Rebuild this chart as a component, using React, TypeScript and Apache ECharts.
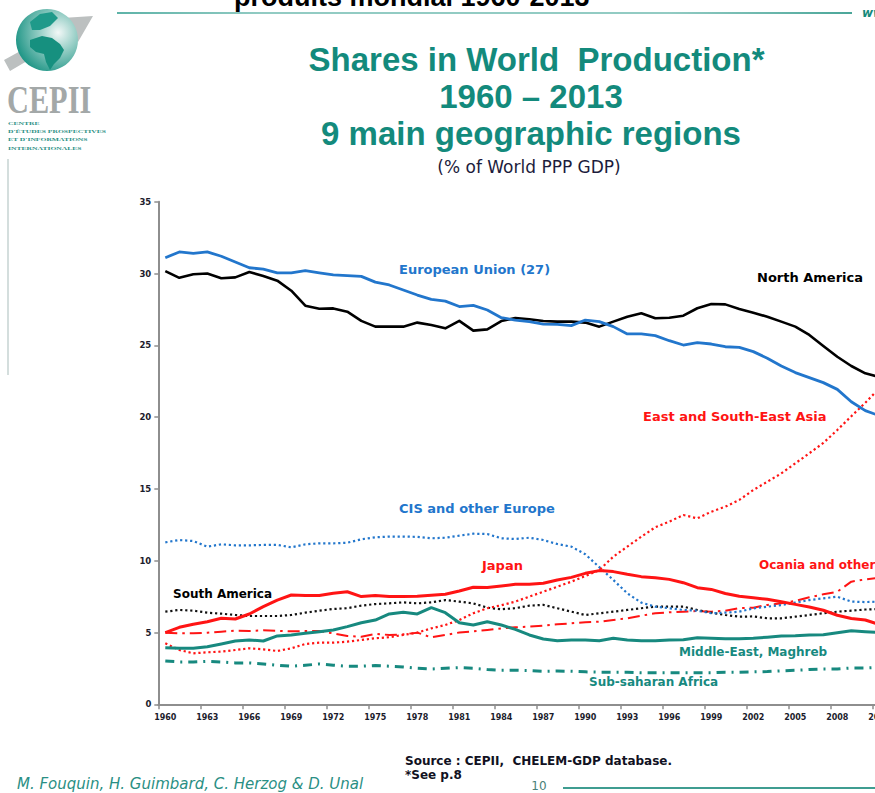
import React, { useEffect, useRef } from "react";
import * as echarts from "echarts";

const years: string[] = Array.from({ length: 54 }, (_, i) => String(1960 + i));

const europeanUnion = [
  31.1, 31.5, 31.4, 31.5, 31.2, 30.8, 30.4, 30.3, 30.05, 30.05,
  30.2, 30.05, 29.9, 29.85, 29.8, 29.4, 29.2, 28.85, 28.5, 28.2,
  28.08, 27.7, 27.78, 27.46, 26.92, 26.76, 26.65, 26.48, 26.46, 26.37,
  26.76, 26.65, 26.3, 25.79, 25.79, 25.67, 25.32, 25.02, 25.18, 25.09,
  24.9, 24.86, 24.56, 24.1, 23.56, 23.1, 22.75, 22.4, 21.93, 21.07,
  20.45, 20.1, 19.8, 19.5,
];
const northAmerica = [
  30.17, 29.7, 29.95, 30.0, 29.67, 29.73, 30.1, 29.83, 29.5, 28.8,
  27.76, 27.55, 27.57, 27.34, 26.7, 26.3, 26.3, 26.3, 26.58, 26.41,
  26.18, 26.7, 26.02, 26.11, 26.69, 26.9, 26.81, 26.69, 26.65, 26.65,
  26.58, 26.3, 26.65, 26.99, 27.23, 26.88, 26.92, 27.06, 27.58, 27.88,
  27.85, 27.53, 27.27, 26.99, 26.65, 26.3, 25.72, 24.95, 24.2, 23.56,
  23.05, 22.8, 22.5, 22.2,
];
const eastSouthEastAsia = [
  4.25, 3.78, 3.55, 3.62, 3.67, 3.78, 3.9, 3.83, 3.71, 3.9,
  4.2, 4.29, 4.29, 4.36, 4.48, 4.6, 4.67, 4.83, 4.99, 5.29,
  5.52, 5.87, 6.34, 6.69, 6.9, 7.15, 7.5, 7.84, 8.19, 8.54,
  8.93, 9.35, 10.28, 10.98, 11.67, 12.33, 12.72, 13.18, 12.95, 13.41,
  13.76, 14.23, 14.92, 15.5, 16.08, 16.78, 17.48, 18.2, 19.1, 20.06,
  21.0, 22.0, 23.0, 24.0,
];
const japan = [
  4.99, 5.36, 5.57, 5.75, 5.99, 5.94, 6.29, 6.8, 7.26, 7.61,
  7.57, 7.57, 7.73, 7.84, 7.5, 7.57, 7.5, 7.5, 7.52, 7.6,
  7.66, 7.89, 8.15, 8.13, 8.24, 8.36, 8.36, 8.43, 8.66, 8.84,
  9.12, 9.31, 9.24, 9.05, 8.89, 8.82, 8.7, 8.47, 8.12, 8.0,
  7.72, 7.52, 7.42, 7.31, 7.14, 6.96, 6.78, 6.55, 6.2, 5.97,
  5.87, 5.55, 5.3, 5.1,
];
const cisOtherEurope = [
  11.28, 11.44, 11.37, 10.98, 11.14, 11.07, 11.07, 11.1, 11.1, 10.93,
  11.14, 11.21, 11.21, 11.25, 11.49, 11.63, 11.68, 11.68, 11.66, 11.56,
  11.6, 11.74, 11.88, 11.86, 11.56, 11.51, 11.6, 11.44, 11.16, 10.98,
  10.45, 9.55, 8.66, 7.73, 7.08, 6.8, 6.69, 6.57, 6.52, 6.34,
  6.38, 6.45, 6.68, 6.8, 6.91, 7.08, 7.26, 7.38, 7.49, 7.15,
  7.12, 7.15, 7.2, 7.3,
];
const southAmerica = [
  6.45, 6.57, 6.52, 6.38, 6.31, 6.22, 6.15, 6.15, 6.15, 6.22,
  6.38, 6.52, 6.64, 6.69, 6.87, 6.98, 7.03, 7.1, 7.03, 7.1,
  7.26, 7.15, 7.03, 6.73, 6.62, 6.69, 6.87, 6.92, 6.69, 6.45,
  6.22, 6.34, 6.45, 6.57, 6.69, 6.8, 6.8, 6.8, 6.57, 6.38,
  6.22, 6.1, 6.12, 5.99, 5.99, 6.1, 6.22, 6.34, 6.45, 6.52,
  6.6, 6.63, 6.7, 6.75,
];
const oceaniaOther = [
  4.99, 4.94, 4.94, 4.99, 5.06, 5.13, 5.1, 5.15, 5.12, 5.08,
  5.1, 5.1, 4.94, 4.76, 4.71, 4.9, 4.83, 4.87, 4.99, 4.66,
  4.83, 5.0, 5.08, 5.18, 5.29, 5.36, 5.41, 5.48, 5.57, 5.64,
  5.71, 5.75, 5.87, 5.99, 6.17, 6.34, 6.41, 6.45, 6.5, 6.45,
  6.52, 6.69, 6.73, 6.92, 7.03, 7.2, 7.45, 7.66, 7.84, 8.54,
  8.7, 8.82, 8.9, 9.0,
];
const middleEastMaghreb = [
  3.94, 3.9, 3.9, 4.01, 4.2, 4.41, 4.48, 4.41, 4.76, 4.83,
  4.94, 5.06, 5.18, 5.41, 5.68, 5.87, 6.29, 6.41, 6.29, 6.73,
  6.38, 5.68, 5.52, 5.75, 5.52, 5.22, 4.83, 4.55, 4.43, 4.48,
  4.48, 4.43, 4.6, 4.48, 4.43, 4.43, 4.48, 4.5, 4.64, 4.6,
  4.57, 4.57, 4.6, 4.67, 4.76, 4.78, 4.83, 4.85, 4.99, 5.12,
  5.06, 5.0, 5.0, 4.95,
];
const subSaharanAfrica = [
  3.02, 2.95, 2.95, 2.99, 2.95, 2.88, 2.88, 2.81, 2.72, 2.65,
  2.72, 2.81, 2.72, 2.65, 2.65, 2.7, 2.65, 2.6, 2.51, 2.46,
  2.51, 2.55, 2.51, 2.42, 2.37, 2.37, 2.35, 2.3, 2.32, 2.3,
  2.26, 2.24, 2.24, 2.24, 2.2, 2.19, 2.19, 2.19, 2.19, 2.19,
  2.24, 2.24, 2.26, 2.28, 2.33, 2.37, 2.42, 2.46, 2.46, 2.53,
  2.53, 2.58, 2.6, 2.62,
];

const TEAL = "#138a7c";
const BLUE = "#2276cc";
const RED = "#ff1414";
const SERIES_TEAL = "#17897f";

function label(text: string, x: number, y: number, fill: string, size: number) {
  return {
    type: "text",
    x,
    y,
    z: 100,
    style: {
      text,
      font: `bold ${size}px "DejaVu Sans"`,
      fill,
      textAlign: "left",
      textVerticalAlign: "middle",
    },
  };
}

export default function App() {
  const ref = useRef<HTMLDivElement>(null);

  useEffect(() => {
    if (!ref.current) return;
    const chart = echarts.init(ref.current, null, { renderer: "svg" });

    const line = (
      name: string,
      data: number[],
      color: string,
      width: number,
      type: any,
      z: number
    ) => ({
      name,
      type: "line",
      data,
      showSymbol: false,
      symbol: "none",
      z,
      lineStyle: { color, width, type, cap: "butt", join: "round" },
    });

    const option: any = {
      animation: false,
      backgroundColor: "#ffffff",
      grid: { left: 158.3, top: 201.7, right: 5.7, bottom: 88.7, containLabel: false },
      xAxis: {
        type: "category",
        data: years,
        boundaryGap: true,
        axisLine: { show: true, lineStyle: { color: "#8e8e8e", width: 2 } },
        axisTick: { show: true, interval: 2, length: 5, lineStyle: { color: "#8e8e8e", width: 1.5 } },
        axisLabel: {
          interval: 2,
          fontFamily: "DejaVu Sans",
          fontWeight: "bold",
          fontSize: 8,
          color: "#1c1c2c",
          margin: 9,
        },
        splitLine: { show: false },
      },
      yAxis: {
        type: "value",
        min: 0,
        max: 35,
        interval: 5,
        axisLine: { show: true, lineStyle: { color: "#8e8e8e", width: 2 } },
        axisTick: { show: true, length: 4, lineStyle: { color: "#8e8e8e", width: 1.5 } },
        axisLabel: {
          fontFamily: "DejaVu Sans",
          fontWeight: "bold",
          fontSize: 8.5,
          color: "#1c1c2c",
          margin: 7,
        },
        splitLine: { show: false },
      },
      series: [
        line("Sub-saharan Africa", subSaharanAfrica, SERIES_TEAL, 3, [9, 6, 2, 6], 2),
        line("Ocania and other", oceaniaOther, RED, 2, [12, 5, 2.5, 5], 2),
        line("South America", southAmerica, "#111111", 2.2, [2.2, 2.8], 2),
        line("CIS and other Europe", cisOtherEurope, BLUE, 2.2, [2.2, 2.8], 2),
        line("East and South-East Asia", eastSouthEastAsia, RED, 2.2, [2.2, 2.8], 2),
        line("Middle-East, Maghreb", middleEastMaghreb, SERIES_TEAL, 3, "solid", 3),
        line("Japan", japan, RED, 3, "solid", 3),
        line("North America", northAmerica, "#000000", 2.6, "solid", 4),
        line("European Union (27)", europeanUnion, BLUE, 2.8, "solid", 4),
      ],
      graphic: [
        // top rule
        {
          type: "rect",
          shape: { x: 117, y: 12, width: 735, height: 2 },
          style: {
            fill: new echarts.graphic.LinearGradient(0, 0, 1, 0, [
              { offset: 0, color: "#5eb3a8" },
              { offset: 0.2, color: "#92cbc3" },
              { offset: 0.75, color: "#92cbc3" },
              { offset: 1, color: "#4aa699" },
            ]),
          },
        },
        {
          type: "text",
          x: 234,
          y: 10,
          style: {
            text: "produits mondial 1960-2013",
            font: 'bold 27px "Liberation Sans"',
            fill: "#000000",
            textAlign: "left",
            textVerticalAlign: "bottom",
          },
        },
        {
          type: "text",
          x: 862,
          y: 13,
          style: {
            text: "www.cepii.fr",
            font: 'italic bold 12px "DejaVu Sans"',
            fill: TEAL,
            textAlign: "left",
            textVerticalAlign: "middle",
          },
        },
        // left vertical rule
        { type: "line", shape: { x1: 8, y1: 159, x2: 8, y2: 375 }, style: { stroke: "#a9bdbb", lineWidth: 1 } },
        // logo arrow
        {
          type: "polygon",
          shape: { points: [[4, 60], [66, 26], [62, 18], [93, 16], [78, 42], [73, 34], [10, 71]] },
          style: { fill: "#bcc0c0" },
        },
        // globe
        {
          type: "circle",
          shape: { cx: 47, cy: 40, r: 31 },
          style: {
            fill: new echarts.graphic.RadialGradient(0.68, 0.38, 0.75, [
              { offset: 0, color: "#f2f8f7" },
              { offset: 0.45, color: "#8cc9c0" },
              { offset: 1, color: "#139080" },
            ]),
          },
        },
        {
          type: "polygon",
          shape: { points: [[30, 40], [42, 36], [52, 38], [60, 44], [64, 50], [60, 58], [54, 64], [50, 70], [46, 62], [44, 54], [36, 52], [30, 47]] },
          style: { fill: "#16907f" },
        },
        {
          type: "polygon",
          shape: { points: [[30, 22], [40, 14], [52, 12], [58, 18], [50, 26], [40, 30], [32, 30]] },
          style: { fill: "#1f9a8a" },
        },
        {
          type: "text",
          x: 7,
          y: 99,
          scaleX: 0.74,
          style: {
            text: "CEPII",
            font: 'bold 41px "Liberation Serif"',
            fill: "#a3a8a8",
            textAlign: "left",
            textVerticalAlign: "middle",
          },
        },
        ...["CENTRE", "D'ÉTUDES PROSPECTIVES", "ET D'INFORMATIONS", "INTERNATIONALES"].map((t, i) => ({
          type: "text",
          x: 8,
          y: 123 + i * 8.3,
          scaleX: 1.65,
          style: {
            text: t,
            font: 'bold 4.6px "Liberation Serif"',
            fill: "#2a8f84",
            textAlign: "left",
            textVerticalAlign: "middle",
          },
        })),
        // titles
        ...["Shares in World  Production*", "1960 – 2013", "9 main geographic regions"].map((t, i) => ({
          type: "text",
          x: i === 0 ? 536.5 : 531,
          y: [59, 96, 133][i],
          style: {
            text: t,
            font: 'bold 33px "Liberation Sans"',
            fill: TEAL,
            textAlign: "center",
            textVerticalAlign: "middle",
          },
        })),
        {
          type: "text",
          x: 529,
          y: 167,
          style: {
            text: "(% of World PPP GDP)",
            font: '17px "DejaVu Sans"',
            fill: "#1c1c3c",
            textAlign: "center",
            textVerticalAlign: "middle",
          },
        },
        // series labels
        label("European Union (27)", 399, 269, BLUE, 13),
        label("North America", 757, 277, "#000000", 13),
        label("East and South-East Asia", 643, 416, RED, 13),
        label("CIS and other Europe", 399, 508, BLUE, 13),
        label("Japan", 482, 565, RED, 13),
        label("Ocania and other", 759, 565, RED, 12),
        label("South America", 173, 594, "#000000", 12),
        label("Middle-East, Maghreb", 679, 652, SERIES_TEAL, 12),
        label("Sub-saharan Africa", 589, 682, SERIES_TEAL, 12),
        // footer
        {
          type: "text",
          x: 405,
          y: 761,
          style: {
            text: "Source : CEPII,  CHELEM-GDP database.",
            font: 'bold 12px "DejaVu Sans"',
            fill: "#111122",
            textAlign: "left",
            textVerticalAlign: "middle",
          },
        },
        {
          type: "text",
          x: 405,
          y: 775,
          style: {
            text: "*See p.8",
            font: 'bold 12px "DejaVu Sans"',
            fill: "#111122",
            textAlign: "left",
            textVerticalAlign: "middle",
          },
        },
        {
          type: "text",
          x: 17,
          y: 784,
          style: {
            text: "M. Fouquin, H. Guimbard, C. Herzog & D. Unal",
            font: 'italic 15px "DejaVu Sans"',
            fill: "#2a8f84",
            textAlign: "left",
            textVerticalAlign: "middle",
          },
        },
        {
          type: "text",
          x: 539,
          y: 786,
          style: {
            text: "10",
            font: '12px "DejaVu Sans"',
            fill: "#4a7f78",
            textAlign: "center",
            textVerticalAlign: "middle",
          },
        },
        {
          type: "rect",
          shape: { x: 563, y: 787, width: 330, height: 2 },
          style: { fill: "#3f9d91" },
        },
      ],
    };

    chart.setOption(option);
    return () => {
      chart.dispose();
    };
  }, []);

  return (
    <div
      style={{
        position: "fixed",
        left: 0,
        top: 0,
        width: 875,
        height: 793,
        overflow: "hidden",
        background: "#ffffff",
      }}
    >
      <div ref={ref} style={{ width: 920, height: 793 }} />
    </div>
  );
}
